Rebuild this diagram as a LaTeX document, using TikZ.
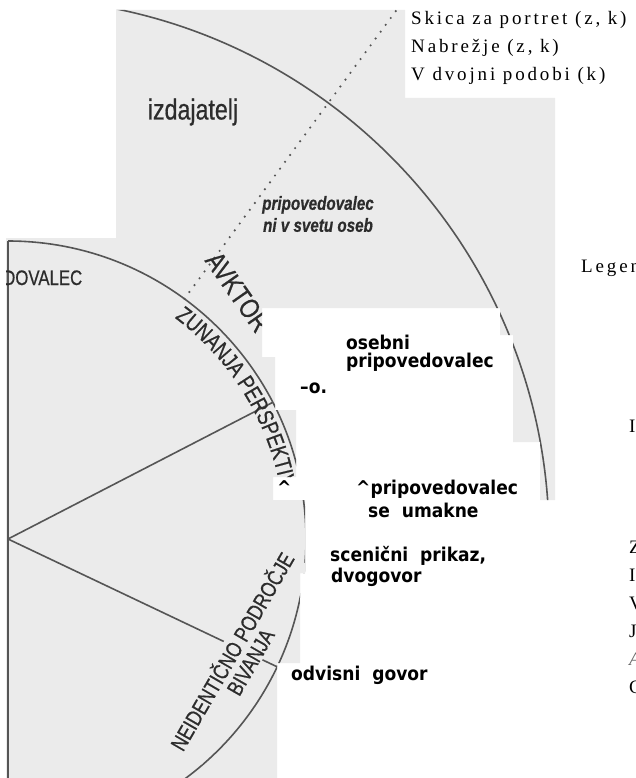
\documentclass[tikz,border=0pt]{standalone}
\usepackage{fontspec}
\setmainfont{Liberation Serif}
\newfontfamily\scanfont[FakeStretch=0.8, FakeBold=0.6]{Liberation Sans}
\newfontfamily\notefont[FakeStretch=0.9]{DejaVu Sans}
\usetikzlibrary{calc, decorations.text}

\definecolor{scanbg}{HTML}{EBEBEB}
\definecolor{scanline}{HTML}{555555}
\definecolor{scanink}{HTML}{2C2C2C}

% outline of the scanned pieces
\newcommand{\patchpath}{(116,10) -- (405,10) -- (405,98) -- (555,98) -- (555,500)
    -- (540,500) -- (540,442) -- (513,442) -- (513,335) -- (500,335) -- (500,308)
    -- (262,308) -- (262,357) -- (275,357) -- (275,410) -- (296,410) -- (296,477)
    -- (273,477) -- (273,500) -- (305,500) -- (305,573) -- (300,573) -- (300,663)
    -- (277,663) -- (277,778) -- (6,778) -- (6,238) -- (116,238) -- cycle}

\begin{document}
\begin{tikzpicture}[x=1pt, y=-1pt,
    rimline/.style={draw=scanline, line width=1.6pt},
    dotline/.style={draw=scanline, line width=2.4pt, line cap=round, dash pattern=on 0pt off 8.5pt},
    scantext/.style={font=\scanfont\fontsize{21}{21}\selectfont, text=scanink, inner sep=0pt},
    note/.style={font=\notefont\bfseries\fontsize{19}{19}\selectfont, inner sep=0pt, anchor=base west},
    legend/.style={font={\fontsize{19}{19}\selectfont\addfontfeatures{LetterSpace=15}}, inner sep=0pt, anchor=base west}
]
\useasboundingbox (0,0) rectangle (636,778);
\clip (0,0) rectangle (636,778);

% --- Legenda zgoraj ---
\node[legend] (legA) at (411,25) {Skica za portret (z, k)};
\node[legend] (legB) at (411,53) {Nabrežje (z, k)};
\node[legend] (legC) at (411,81) {V dvojni podobi (k)};
\node[legend] (legen) at (581,272) {Legen};
\node[legend] (letI) at (629,432) {I};

% --- Skenirani krog ---
\fill[scanbg] \patchpath;
\begin{scope}
\clip \patchpath;
\coordinate (ctr) at (8,539);
\coordinate (rimUp) at ($(ctr)+(27.3:298pt)$);
\coordinate (rimDown) at ($(ctr)+(-25.4:298pt)$);
\coordinate (rimDot) at ($(ctr)+(53.7:298pt)$);
\coordinate (farDot) at ($(ctr)+(53.7:720pt)$);
\coordinate (topC) at ($(ctr)+(90:298pt)$);

\draw[rimline] ($(ctr)+(86:541pt)$) arc[start angle=86, end angle=-2, radius=541pt];
\draw[rimline] (topC) arc[start angle=90, end angle=-62, radius=298pt];
\draw[rimline] (topC) -- (8,778);
\draw[rimline] (ctr) -- (rimUp);
\draw[rimline] (ctr) -- (rimDown);
\draw[dotline] (rimDot) -- (farDot);

\node[scantext, font=\scanfont\fontsize{29}{29}\selectfont] (izdaj) at (193,112) {izdajatelj};
\node[scantext, font=\scanfont\bfseries\itshape\fontsize{19}{22}\selectfont, align=center]
    (zunaj) at (318,214) {pripovedovalec\\ni v svetu oseb};
\node[scantext, font=\scanfont\fontsize{28}{28}\selectfont, rotate=-55] (avktor) at (238,292) {AVKTOR};
\node[scantext, anchor=base west] (dovalec) at (3,285) {DOVALEC};
\path[decorate, decoration={text along path,
    text={|\scanfont\fontsize{23}{23}\selectfont\color{scanink}|ZUNANJA PERSPEKTIV}}]
    ($(ctr)+(53:277pt)$) arc[start angle=53, end angle=3, radius=277pt];
\node[scantext, font=\scanfont\fontsize{22}{21}\selectfont, align=center, rotate=60,
    fill=scanbg, inner sep=1pt] (neid) at (240,656) {NEIDENTIČNO PODROČJE\\BIVANJA};
\end{scope}

% --- Opombe ---
\node[note] (osebni) at (346,349) {osebni};
\node[note] (osebni2) at (346,367) {pripovedovalec};
\node[note] (oo) at (300,393) {–o.};
\node[note] (caret) at (277,494) {\^{}};
\node[note] (umik) at (356,494) {\^{}pripovedovalec};
\node[note] (umik2) at (368,517) {se\ \ umakne};
\node[note] (scena) at (330,561) {scenični\ \ prikaz,};
\node[note] (scena2) at (331,582) {dvogovor};
\node[note] (odvisni) at (291,680) {odvisni\ \ govor};

% --- Odrezane vrstice desno ---
\node[legend] (letZ) at (629,553) {Z};
\node[legend] (letI2) at (629,581) {I};
\node[legend] (letV) at (629,609) {V};
\node[legend] (letJ) at (629,637) {J};
\node[legend, text=black!60, font=\itshape\fontsize{19}{19}\selectfont] (letA) at (629,665) {A};
\node[legend] (letC) at (629,693) {C};

\end{tikzpicture}
\end{document}
